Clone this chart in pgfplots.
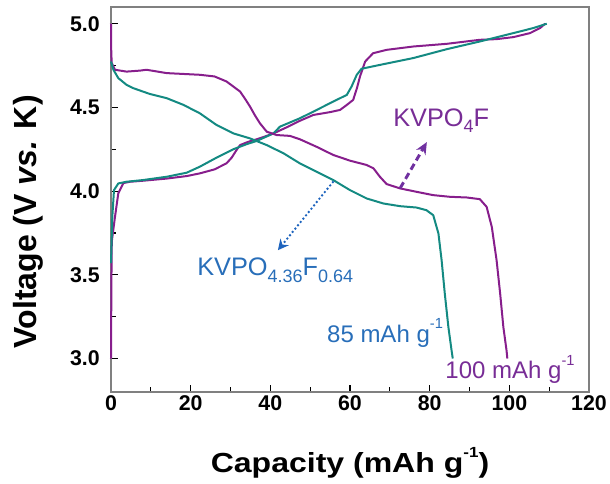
\documentclass[border=0pt]{standalone}
\usepackage{fontspec}
\setmainfont{Liberation Sans}
\usepackage{graphicx}
\usepackage{pgfplots}
\pgfplotsset{compat=1.18}
\usetikzlibrary{arrows.meta}
\definecolor{teal1}{RGB}{20,138,130}
\definecolor{purp1}{RGB}{135,30,140}
\definecolor{purptxt}{RGB}{120,45,150}
\definecolor{bluetxt}{RGB}{40,110,185}
\definecolor{arrpurp}{RGB}{112,48,160}
\definecolor{arrblue}{RGB}{30,100,190}
\newcommand{\sub}[1]{\raisebox{-0.25em}{\fontsize{13.5}{14}\selectfont #1}}
\newcommand{\sups}[1]{\raisebox{0.55em}{\fontsize{11}{12}\selectfont #1}}
\begin{document}
\begin{tikzpicture}
\begin{axis}[name=ax, at={(0,0)}, anchor=south west,
  scale only axis, width=358.5pt, height=288.75pt,
  xmin=0, xmax=120, ymin=2.8, ymax=5.1,
  xtick={0,20,...,120}, ytick={3,3.5,4,4.5,5},
  minor x tick num=1, minor y tick num=1,
  tick align=inside, xtick pos=bottom, ytick pos=left,
  axis line style={draw=gray, line width=1pt},
  tick style={black, line width=0.8pt},
  major tick length=5.25pt, minor tick length=3.75pt,
  /pgf/number format/assume math mode=true,
  ticklabel style={font=\fontsize{16}{18}\selectfont\bfseries},
  xticklabel style={inner sep=0pt, yshift=-2.25pt},
  yticklabel style={/pgf/number format/fixed, /pgf/number format/fixed zerofill, /pgf/number format/precision=1, inner sep=0pt, xshift=-8.25pt},
  xlabel={\scalebox{1.16}[1]{Capacity (mAh g\sups{-1})}},
  ylabel={Voltage (V \textit{vs.} K)},
  xlabel style={at={(axis description cs:0.5,-0.185)}, anchor=center, font=\fontsize{20.7}{24}\selectfont\bfseries},
  ylabel style={at={(axis description cs:-0.174,0.442)}, anchor=center, font=\fontsize{24}{28}\selectfont\bfseries},
  clip=false,
  every axis plot/.append style={line width=1.5pt, line join=round},
]
% purple charge
\addplot[purp1] coordinates {
(0,3.0) (0.1,3.45) (0.2,3.70) (1.0,3.846) (1.84,3.988) (3.1,4.048) (4.8,4.056) (8,4.062) (14,4.075) (19,4.09) (22.3,4.106) (26,4.13) (29,4.166) (30.3,4.20) (31.5,4.245) (32.4,4.275) (34.5,4.295) (36.6,4.31) (38.5,4.325) (40.8,4.345) (44,4.38) (47.4,4.42) (50.8,4.455) (55,4.472) (57.5,4.485) (59.2,4.515) (60.8,4.545) (61.8,4.62) (62.5,4.684) (63.8,4.774) (65.8,4.824) (69.2,4.844) (75.9,4.864) (84.3,4.880) (92.6,4.904) (96.8,4.908) (101,4.920) (105.2,4.944) (107.7,4.974) (109,5.0)
};
% teal charge
\addplot[teal1] coordinates {
(0,3.57) (0.33,3.846) (0.75,4.006) (1.84,4.046) (3.9,4.056) (8,4.066) (14,4.086) (19,4.11) (22.3,4.146) (26.5,4.20) (30.7,4.25) (34,4.28) (36.6,4.30) (40.8,4.345) (42.4,4.385) (47.4,4.435) (50.8,4.475) (55.8,4.535) (59.2,4.575) (60.4,4.625) (61.7,4.695) (62.9,4.731) (67.5,4.754) (75.9,4.795) (84.3,4.848) (92.6,4.894) (101,4.944) (106,4.974) (109.4,5.0)
};
% purple discharge
\addplot[purp1] coordinates {
(0,5.0) (0.05,4.85) (0.17,4.766) (1.0,4.725) (3.9,4.714) (7.3,4.72) (8.9,4.725) (14,4.705) (22.3,4.695) (26,4.685) (29,4.655) (30.7,4.625) (32.4,4.595) (33.7,4.55) (34.9,4.505) (36.2,4.45) (37.4,4.405) (39.1,4.355) (41.6,4.335) (44.9,4.33) (47.4,4.31) (51.6,4.265) (55.8,4.216) (60,4.182) (64.2,4.156) (65.9,4.136) (67.5,4.086) (69.2,4.042) (72.6,4.016) (76.7,3.996) (80.9,3.976) (85.1,3.966) (89.3,3.962) (92.6,3.952) (94.3,3.906) (95.6,3.786) (96.8,3.587) (97.7,3.387) (98.5,3.188) (99.3,3.048) (99.5,3.0)
};
% teal discharge
\addplot[teal1] coordinates {
(0,4.774) (0.6,4.725) (1.84,4.675) (3.9,4.635) (5.6,4.615) (9.8,4.58) (14,4.555) (18.2,4.515) (22.3,4.465) (26.5,4.395) (30.7,4.345) (34.9,4.315) (39.1,4.275) (43.3,4.226) (47.4,4.166) (51.6,4.116) (55.8,4.066) (60,4.006) (64.2,3.956) (68.4,3.926) (72.6,3.910) (76.7,3.902) (79.2,3.886) (80.9,3.856) (82.2,3.747) (83.0,3.587) (83.8,3.387) (84.7,3.188) (85.5,3.048) (85.8,3.0)
};
\node[anchor=base west, text=purptxt, font=\fontsize{19}{22}\selectfont, inner sep=0pt] at (axis cs:70.8,4.389) {KVPO\sub{4}F};
\node[anchor=base west, text=bluetxt, font=\fontsize{19}{22}\selectfont, inner sep=0pt] at (axis cs:21.6,3.493) {KVPO\sub{4.36}F\sub{0.64}};
\node[anchor=base west, text=bluetxt, font=\fontsize{18}{20}\selectfont, inner sep=0pt] at (axis cs:54.2,3.098) {85 mAh g\sups{-1}};
\node[anchor=base west, text=purptxt, font=\fontsize{18}{20}\selectfont, inner sep=0pt] at (axis cs:83.9,2.880) {100 mAh g\sups{-1}};
\draw[arrpurp, line width=2.2pt, dash pattern=on 5pt off 3pt, -{Stealth[length=9pt,width=8pt]}] (axis cs:72.6,4.018) -- (axis cs:79.3,4.293);
\draw[arrblue, line width=2pt, line cap=round, dash pattern=on 0pt off 3.2pt, -{Stealth[length=8pt,width=8pt]}] (axis cs:55.7,4.054) -- (axis cs:41.9,3.647);
\end{axis}
\pgfresetboundingbox
\path[use as bounding box] ([shift={(-83.25pt,-69pt)}]ax.south west) rectangle ([shift={(15.75pt,5.25pt)}]ax.north east);
\end{tikzpicture}
\end{document}
